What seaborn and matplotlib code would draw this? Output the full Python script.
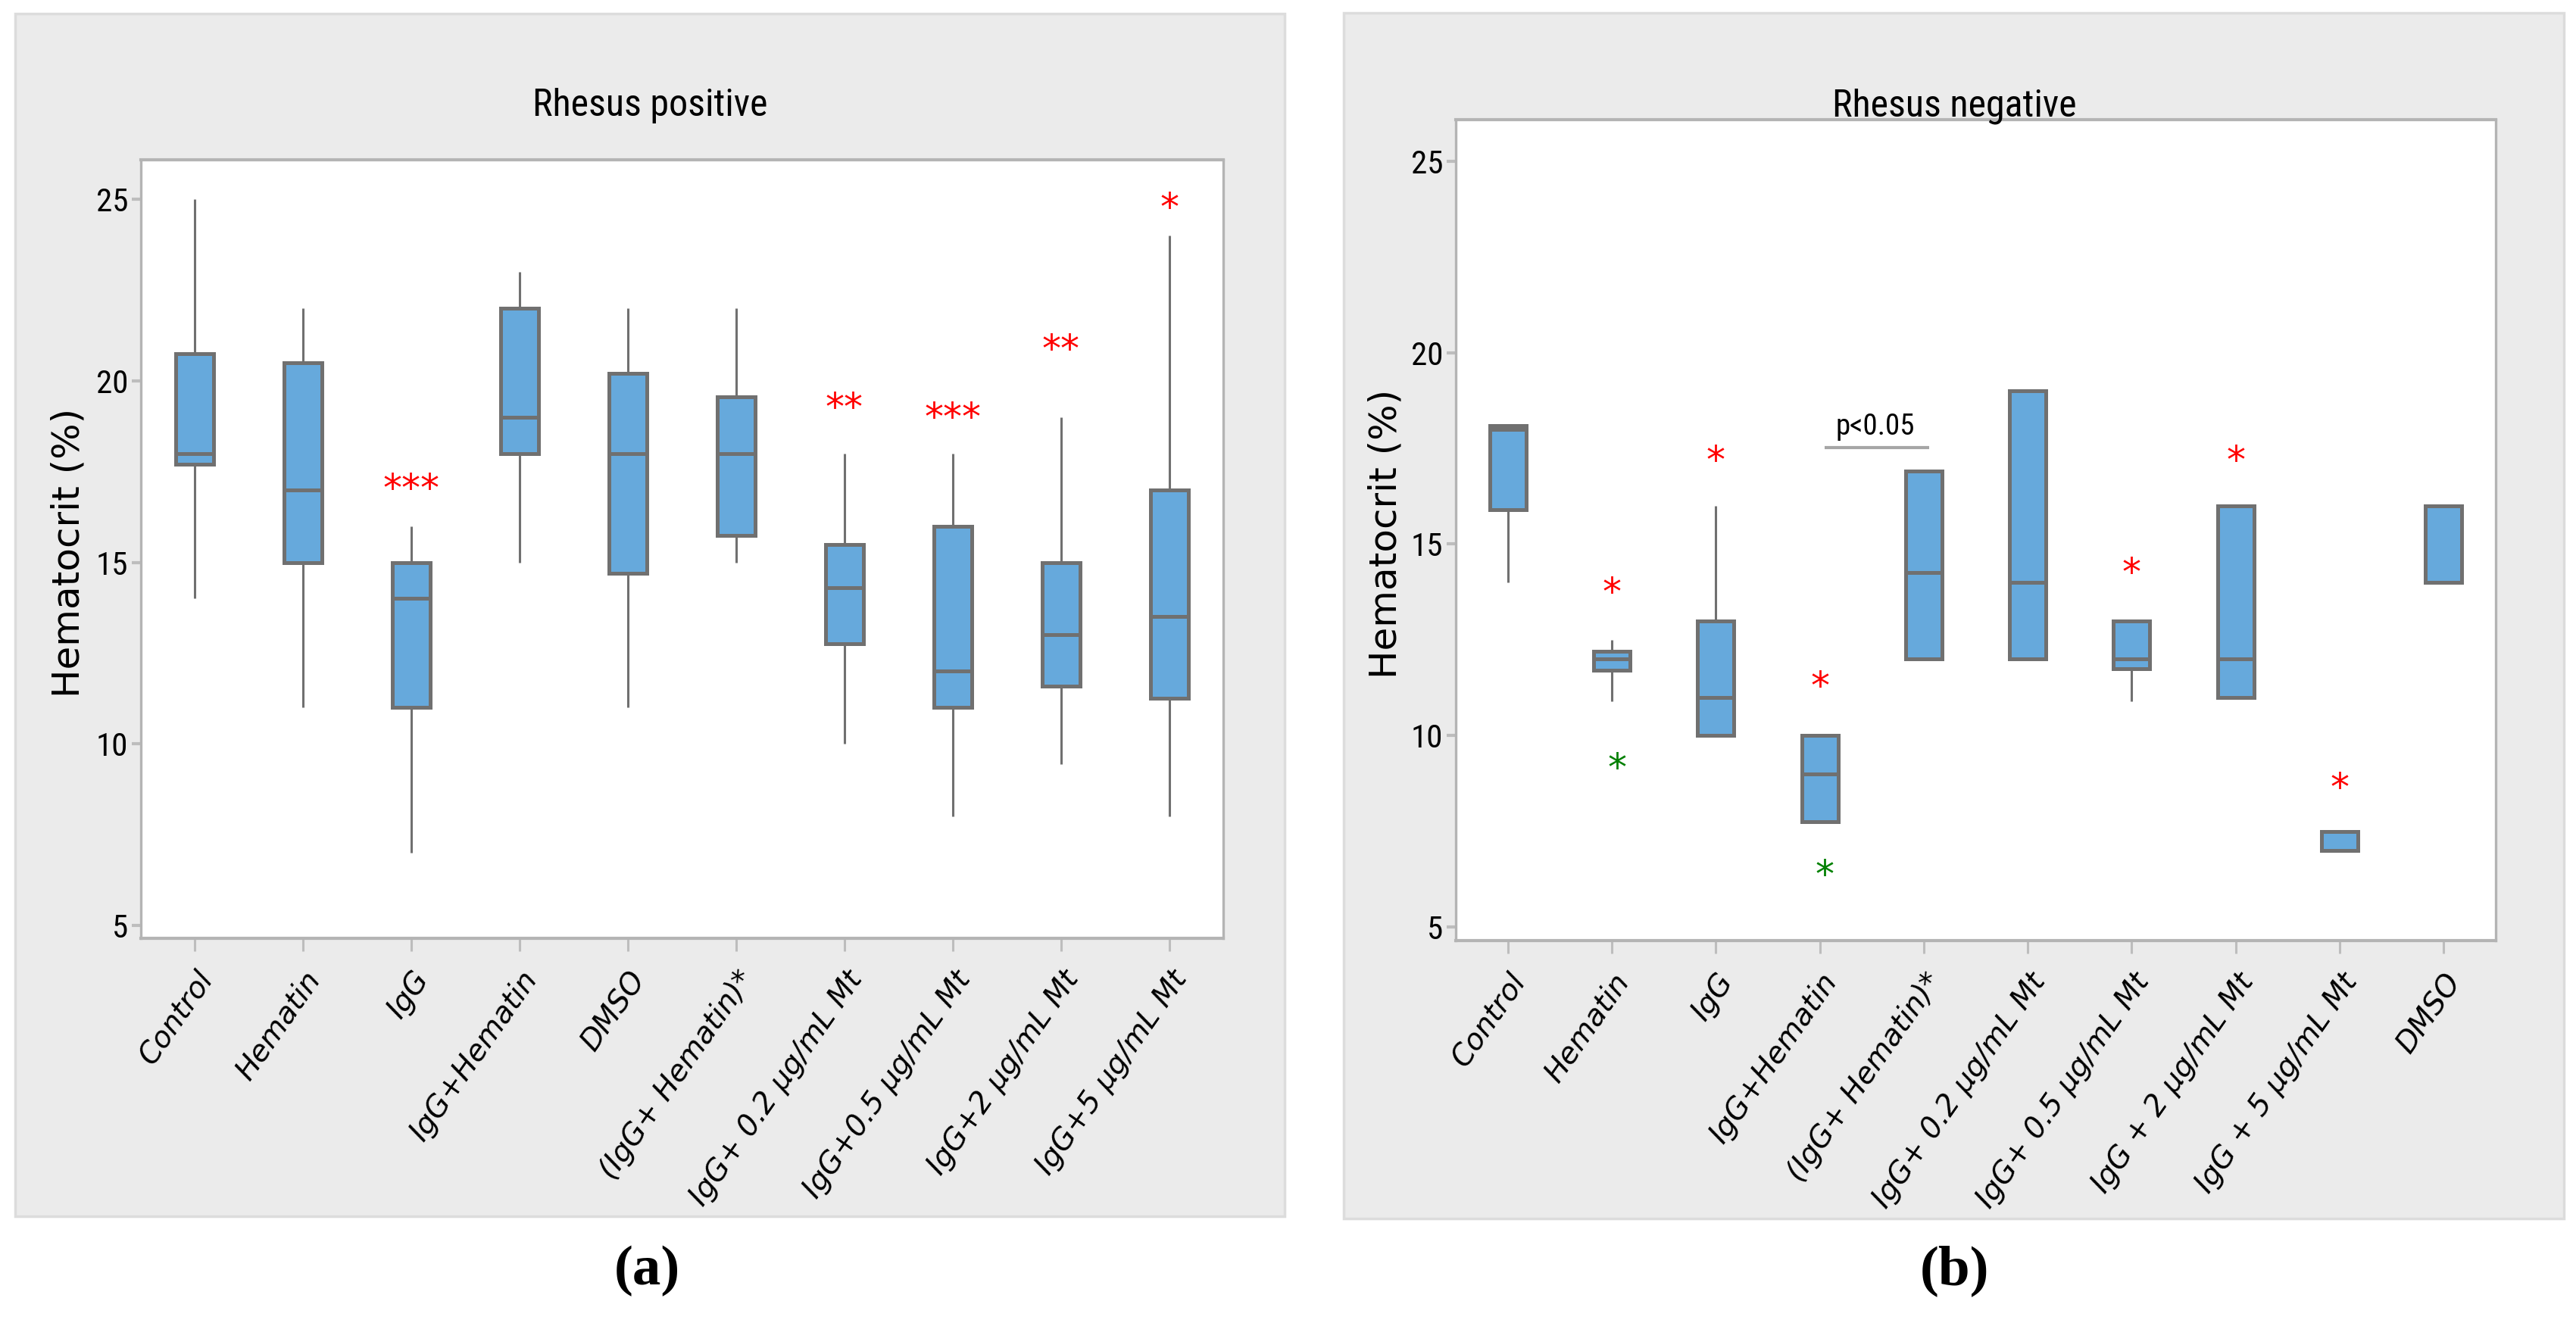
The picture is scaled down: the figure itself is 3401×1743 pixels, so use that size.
"""
Hematocrit box plots for Rhesus positive / negative groups, redrawn with seaborn
"""

import matplotlib
matplotlib.use("Agg")
import matplotlib.pyplot as plt
from matplotlib.patches import Rectangle
import numpy as np
import pandas as pd
import seaborn as sns

# ---- panel (a): Rhesus positive, five-number summary of every box ----
pos_groups = ["Control", "Hematin", "IgG", "IgG+Hematin", "DMSO", "(IgG+ Hematin)*",
              "IgG+ 0.2 μg/mL Mt", "IgG+0.5 μg/mL Mt", "IgG+2 μg/mL Mt", "IgG+5 μg/mL Mt"]
pos_low = [14, 11, 7, 15, 11, 15, 10, 8, 9.45, 8]
pos_q1 = [17.7, 15, 11, 18, 14.7, 15.75, 12.75, 11, 11.6, 11.25]
pos_med = [18, 17, 14, 19, 18, 18, 14.3, 12, 13, 13.5]
pos_q3 = [20.75, 20.5, 15, 22, 20.2, 19.55, 15.5, 16, 15, 17]
pos_high = [25, 22, 16, 23, 22, 22, 18, 18, 19, 24]

pos_star_idx = [2, 6, 7, 8, 9]
pos_star_y = [17.27, 19.5, 19.23, 21.1, 25.0]
pos_star_txt = ["***", "**", "***", "**", "*"]

# ---- panel (b): Rhesus negative ----
neg_groups = ["Control", "Hematin", "IgG", "IgG+Hematin", "(IgG+ Hematin)*",
              "IgG+ 0.2 μg/mL Mt", "IgG+ 0.5 μg/mL Mt", "IgG + 2 μg/mL Mt",
              "IgG + 5 μg/mL Mt", "DMSO"]
neg_low = [14, 10.9, 10, 7.75, 12, 12, 10.9, 11, 7, 14]
neg_q1 = [15.9, 11.7, 10, 7.75, 12, 12, 11.75, 11, 7, 14]
neg_med = [18, 12, 11, 9, 14.25, 14, 12, 12, 7, 14]
neg_q3 = [18.1, 12.2, 13, 10, 16.9, 19, 13, 16, 7.5, 16]
neg_high = [18.1, 12.5, 16, 10, 16.9, 19, 13, 16, 7.5, 16]

neg_red_idx = [1, 2, 3, 6, 7, 8]
neg_red_y = [13.98, 17.41, 11.51, 14.48, 17.41, 8.88]
neg_green_idx = [1, 3]
neg_green_y = [9.38, 6.6]

# p<0.05 bracket between IgG+Hematin and (IgG+ Hematin)*
pval_x = [3.05, 4.05]
pval_y = 17.51
pval_text = "p<0.05"

box_blue = "#66a9dc"
line_gray = "#707070"
spine_gray = "#b4b4b4"
# condensed faces first, whichever is installed gets used
narrow = ["Liberation Sans Narrow", "Roboto Condensed", "DejaVu Sans Condensed",
          "Liberation Sans", "DejaVu Sans"]


def make_frame(groups, *cols):
    rows = []
    for i, g in enumerate(groups):
        for c in cols:
            rows.append((g, c[i]))
    return pd.DataFrame(rows, columns=["group", "value"])


def draw_panel(ax, groups, low, q1, med, q3, high):
    df = make_frame(groups, low, q1, med, q3, high)
    sns.boxplot(data=df, x="group", y="value", order=groups, ax=ax, whis=(0, 100),
                width=0.35, color=box_blue, linecolor=line_gray, linewidth=3.6,
                saturation=1, showcaps=False, fliersize=0,
                whiskerprops=dict(linewidth=2.2), medianprops=dict(linewidth=3.6))
    ax.set_xlim(-0.5, 9.5)
    ax.set_ylim(4.65, 26.08)
    ax.set_yticks([5, 10, 15, 20, 25])
    ax.set_xlabel("")
    ax.set_ylabel("Hematocrit (%)", fontsize=36, family="DejaVu Sans", color="black")
    ax.yaxis.set_label_coords(-0.05, 0.495)
    ax.set_facecolor("white")
    for side, sp in ax.spines.items():
        sp.set_visible(True)
        sp.set_color(spine_gray)
        sp.set_linewidth(3.0 if side in ("top", "bottom") else 2.4)
    ax.tick_params(axis="y", length=8.6, width=3, color="#bdbdbd", pad=3.5,
                   labelsize=31, labelcolor="black", left=True)
    ax.tick_params(axis="x", length=12, width=2.2, color="#bdbdbd", pad=14,
                   labelcolor="black", bottom=True)
    for lbl in ax.get_yticklabels():
        lbl.set_family(narrow)
        lbl.set_stretch("condensed")
    for lbl in ax.get_xticklabels():
        lbl.set(rotation=55, ha="right", va="top", rotation_mode="anchor",
                fontstyle="italic", fontsize=28, family="DejaVu Sans")


def star(ax, x, y, txt, color):
    fs = 36
    ax.annotate(txt, xy=(x, y), xytext=(0, -0.55 * fs), textcoords="offset points",
                ha="center", va="baseline", fontsize=fs, color=color,
                family="DejaVu Sans")


sns.set_style("white")
plt.rcParams["font.family"] = narrow
plt.rcParams["text.color"] = "black"

fig = plt.figure(figsize=(34.01, 17.43), dpi=100)
W, H = 3401, 1743

# gray panel backgrounds
for x0, y0, x1, y1 in [(20, 18, 1696, 1606), (1774, 17, 3385, 1609)]:
    fig.add_artist(Rectangle((x0 / W, 1 - y1 / H), (x1 - x0) / W, (y1 - y0) / H,
                             transform=fig.transFigure, facecolor="#ebebeb",
                             edgecolor="#dcdcdc", linewidth=2.5, zorder=-1))

ax1 = fig.add_axes([186 / W, 1 - 1239 / H, (1615 - 186) / W, (1239 - 211) / H])
ax2 = fig.add_axes([1922 / W, 1 - 1242 / H, (3295 - 1922) / W, (1242 - 158) / H])

draw_panel(ax1, pos_groups, pos_low, pos_q1, pos_med, pos_q3, pos_high)
draw_panel(ax2, neg_groups, neg_low, neg_q1, neg_med, neg_q3, neg_high)

for i, y, t in zip(pos_star_idx, pos_star_y, pos_star_txt):
    star(ax1, i, y, t, "#ff0000")
for i, y in zip(neg_red_idx, neg_red_y):
    star(ax2, i, y, "*", "#ff0000")
for i, y in zip(neg_green_idx, neg_green_y):
    star(ax2, i + 0.05, y, "*", "#008000")

ax2.plot(pval_x, [pval_y, pval_y], color="#a6a6a6", linewidth=3, solid_capstyle="butt")
ax2.text(np.mean(pval_x) - 0.02, pval_y + 0.18, pval_text, ha="center", va="bottom",
         fontsize=28, family=narrow, fontstretch="condensed")

# panel titles and (a)/(b) captions
fig.text(858 / W, 1 - 153 / H, "Rhesus positive", ha="center", va="baseline",
         fontsize=36, family=narrow, fontstretch="condensed")
fig.text(2580 / W, 1 - 153 / H, "Rhesus negative", ha="center", va="baseline",
         fontsize=36, family=narrow, fontstretch="condensed")
fig.text(854 / W, 1 - 1678 / H, "(a)", ha="center", va="center", fontsize=54,
         fontweight="bold", family="Liberation Serif")
fig.text(2580 / W, 1 - 1678 / H, "(b)", ha="center", va="center", fontsize=54,
         fontweight="bold", family="Liberation Serif")

fig.savefig("out.png", dpi=100, facecolor="white")
